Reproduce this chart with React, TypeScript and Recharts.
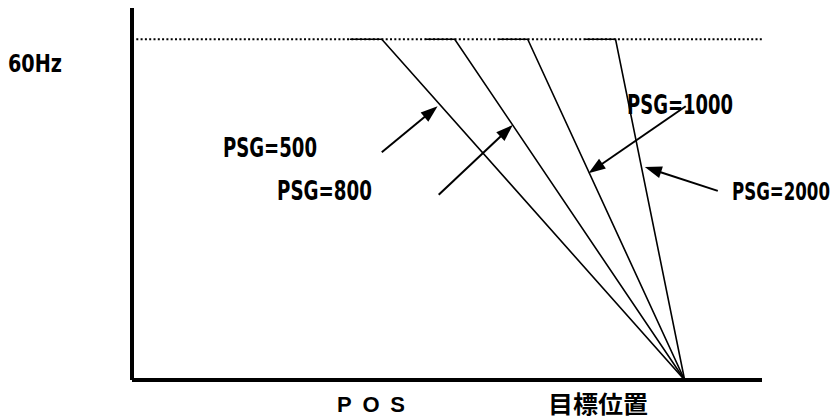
import { LineChart, Line, XAxis, YAxis, ReferenceLine, Customized } from "recharts";

// position axis (0 = origin, 100 = target position) and frequency axis (Hz)
const TARGET_POS = 100;
const MAX_FREQ = 60;
const PSG_NAMES = ["PSG=500", "PSG=800", "PSG=1000", "PSG=2000"];
const START_POS = [39.4, 53.0, 66.4, 81.9];
const KNEE_POS = [45.2, 58.4, 71.6, 87.5];

// annotation arrows: [fromX, fromY, toX, toY] in data units
const ARROWS = [
    [45.2, 40.1, 55.3, 48.2],
    [55.5, 32.6, 68.9, 44.9],
    [100.2, 48.2, 82.6, 36.4],
    [106.0, 33.3, 92.8, 37.5],
];

const series = PSG_NAMES.map((name, i) => ({
    name,
    data: [
        { x: START_POS[i], y: MAX_FREQ },
        { x: KNEE_POS[i], y: MAX_FREQ },
        { x: TARGET_POS, y: 0 },
    ],
}));

// x is the right edge of each label
const LABELS = [
    { text: "60Hz", x: 62, y: 72, w: 54, size: 25 },
    { text: "PSG=500", x: 317, y: 157, w: 94, size: 27 },
    { text: "PSG=800", x: 372, y: 200, w: 95, size: 27 },
    { text: "PSG=1000", x: 733, y: 114, w: 106, size: 27 },
    { text: "PSG=2000", x: 830, y: 200, w: 98, size: 25 },
];

const narrow = '"Liberation Sans Narrow", "DejaVu Sans Condensed", sans-serif';

function Arrow(props: any) {
    const { x1, y1, x2, y2 } = props;
    const dx = x2 - x1;
    const dy = y2 - y1;
    const len = Math.sqrt(dx * dx + dy * dy);
    const ux = dx / len;
    const uy = dy / len;
    const head = 17;
    const half = 6;
    const bx = x2 - ux * head;
    const by = y2 - uy * head;
    return (
        <g>
            <line x1={x1} y1={y1} x2={bx + ux * 2} y2={by + uy * 2} stroke="#000" strokeWidth={2} />
            <polygon
                points={`${x2},${y2} ${bx - uy * half},${by + ux * half} ${bx + uy * half},${by - ux * half}`}
                fill="#000"
            />
        </g>
    );
}

function Texts() {
    return (
        <g>
            {LABELS.map((l) => (
                <text
                    key={l.text}
                    x={l.x}
                    y={l.y}
                    textAnchor="end"
                    fontFamily={narrow}
                    fontWeight="bold"
                    fontSize={l.size}
                    textLength={l.w}
                    lengthAdjust="spacingAndGlyphs"
                    fill="#000"
                >
                    {l.text}
                </text>
            ))}
            <text x={337} y={412} fontFamily='"Liberation Sans", Arial, sans-serif' fontWeight="bold"
                fontSize={22} textLength={68} lengthAdjust="spacing" fill="#000">
                POS
            </text>
            <text x={548} y={413} fontFamily='"Noto Sans CJK JP", sans-serif' fontWeight="bold"
                fontSize={24} textLength={100} lengthAdjust="spacingAndGlyphs" fill="#000">
                目標位置
            </text>
        </g>
    );
}

export default function App() {
    return (
        <div style={{ position: "absolute", left: 0, top: 0, background: "#fff" }}>
            <LineChart width={840} height={419} margin={{ top: 8, right: 78, bottom: 38, left: 131 }}>
                <XAxis
                    type="number"
                    dataKey="x"
                    domain={[0, 114]}
                    allowDataOverflow
                    height={1}
                    tick={false}
                    tickLine={false}
                    axisLine={{ stroke: "#000", strokeWidth: 4 }}
                />
                <YAxis
                    type="number"
                    dataKey="y"
                    domain={[0, 65.5]}
                    allowDataOverflow
                    width={1}
                    tick={false}
                    tickLine={false}
                    axisLine={{ stroke: "#000", strokeWidth: 4 }}
                />
                <ReferenceLine y={MAX_FREQ} stroke="#000" strokeWidth={2} strokeDasharray="2 2.3" />
                {series.map((s) => (
                    <Line
                        key={s.name}
                        name={s.name}
                        data={s.data}
                        dataKey="y"
                        type="linear"
                        stroke="#000"
                        strokeWidth={1.6}
                        dot={false}
                        isAnimationActive={false}
                    />
                ))}
                {ARROWS.map((a, i) => (
                    <ReferenceLine
                        key={i}
                        segment={[{ x: a[0], y: a[1] }, { x: a[2], y: a[3] }]}
                        shape={Arrow}
                    />
                ))}
                <Customized component={Texts} />
            </LineChart>
        </div>
    );
}
